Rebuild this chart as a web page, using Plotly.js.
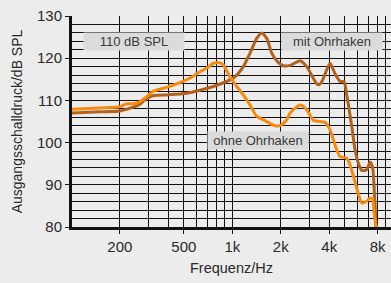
<!DOCTYPE html>
<html>
<head>
<meta charset="utf-8">
<script src="https://cdn.plot.ly/plotly-3.0.1.min.js"></script>
<style>
html,body{margin:0;padding:0;background:#ebeceb;}
#chart{width:391px;height:283px;}
</style>
</head>
<body>
<div id="chart"></div>
<script>
// Frequencies (Hz) and levels (dB SPL)
const freqOhne = [100, 151, 200, 221, 242, 267, 294, 321, 391, 473, 546, 630, 710, 762, 839, 879, 967, 1065, 1170, 1288, 1418, 1523, 1842, 1978, 2178, 2284, 2636, 2900, 3186, 3509, 3767, 4047, 4454, 4670, 5140, 5392, 5934, 6373, 6846, 7178, 7459, 7601, 7890];
const dbOhne   = [107.9, 108.2, 108.5, 109.2, 109.2, 109.7, 110.9, 112.1, 113.1, 114.2, 115.3, 116.8, 117.9, 118.8, 118.9, 118.4, 115.6, 113.3, 111.3, 108.9, 106.2, 105.6, 104.0, 104.0, 105.4, 107.0, 108.9, 107.8, 105.3, 105.0, 104.8, 103.0, 98.3, 96.7, 96.3, 94.7, 89.2, 85.7, 86.1, 86.9, 86.5, 83.3, 79.4];

const freqMit = [100, 151, 200, 242, 267, 294, 321, 391, 521, 630, 762, 923, 1039, 1170, 1288, 1418, 1523, 1636, 1758, 1888, 2075, 2284, 2636, 2900, 3348, 3460, 3610, 4047, 4350, 4670, 4950, 5140, 5530, 5790, 6070, 6373, 6846, 7178, 7459, 7601, 7830];
const dbMit   = [107.0, 107.3, 107.5, 108.4, 109.1, 110.5, 111.1, 111.3, 111.7, 112.4, 113.3, 114.5, 115.6, 118.0, 121.2, 124.7, 126.0, 124.7, 121.2, 119.4, 118.2, 118.3, 119.4, 118.0, 113.9, 113.7, 114.5, 118.8, 116.3, 114.5, 114.4, 111.3, 103.7, 98.3, 95.1, 93.4, 93.6, 95.4, 93.9, 89.6, 79.4];

const xTickVals  = [200, 500, 1000, 2000, 4000, 8000];
const xTickText  = ['200', '500', '1k', '2k', '4k', '8k'];
const xMinorVals = [300, 400, 600, 700, 800, 900, 3000, 5000, 6000, 7000, 9000];
const yTickVals  = [80, 90, 100, 110, 120, 130];

const seriesNames = ['mit Ohrhaken', 'ohne Ohrhaken'];
const labelTexts  = ['110 dB SPL', 'mit Ohrhaken', 'ohne Ohrhaken'];

const sans = '"Liberation Sans", Arial, sans-serif';

const traces = [
  {x: freqMit, y: dbMit, name: seriesNames[0], mode: 'lines',
   line: {color: '#b2621a', width: 3, shape: 'spline', smoothing: 0.6}},
  {x: freqOhne, y: dbOhne, name: seriesNames[1], mode: 'lines',
   line: {color: '#f58a0c', width: 3, shape: 'spline', smoothing: 0.6}}
];

const boxStyle = {
  xref: 'paper', yref: 'paper', showarrow: false,
  bgcolor: '#dadbda', width: 100, height: 17, borderpad: 0,
  font: {family: sans, size: 13, color: '#3a3a3a'},
  xanchor: 'center', yanchor: 'middle'
};

const layout = {
  width: 391, height: 283,
  margin: {l: 72, r: 0, t: 16, b: 56},
  paper_bgcolor: '#ebeceb', plot_bgcolor: '#ebeceb',
  showlegend: false,
  xaxis: {
    type: 'log', range: [2.004, 3.986],
    tickmode: 'array', tickvals: xTickVals, ticktext: xTickText,
    ticks: 'outside', ticklen: 4, tickwidth: 1, tickcolor: '#111',
    showgrid: true, gridcolor: '#111', gridwidth: 1,
    minor: {tickmode: 'array', tickvals: xMinorVals, showgrid: true, gridcolor: '#111', gridwidth: 1, ticks: ''},
    showline: true, linecolor: '#111', linewidth: 3,
    zeroline: false,
    tickfont: {family: sans, size: 15, color: '#2a2a2a'},
    title: {text: 'Frequenz/Hz', font: {family: sans, size: 14.5, color: '#2a2a2a'}, standoff: 9}
  },
  yaxis: {
    range: [80, 130],
    tickmode: 'array', tickvals: yTickVals,
    ticks: 'outside', ticklen: 4, tickwidth: 1, tickcolor: '#111',
    showgrid: true, gridcolor: '#111', gridwidth: 1,
    minor: {dtick: 2, showgrid: true, gridcolor: '#111', gridwidth: 1, ticks: ''},
    showline: true, linecolor: '#111', linewidth: 3,
    zeroline: false,
    tickfont: {family: sans, size: 15, color: '#2a2a2a'},
    title: {text: 'Ausgangsschalldruck/dB SPL', font: {family: sans, size: 14, color: '#2a2a2a'}, standoff: 12}
  },
  annotations: [
    Object.assign({}, boxStyle, {text: labelTexts[0], x: 0.194, y: 0.879}),
    Object.assign({}, boxStyle, {text: labelTexts[1], x: 0.815, y: 0.879}),
    Object.assign({}, boxStyle, {text: labelTexts[2], x: 0.584, y: 0.410})
  ]
};

Plotly.newPlot('chart', traces, layout, {displayModeBar: false, staticPlot: true});
</script>
</body>
</html>
